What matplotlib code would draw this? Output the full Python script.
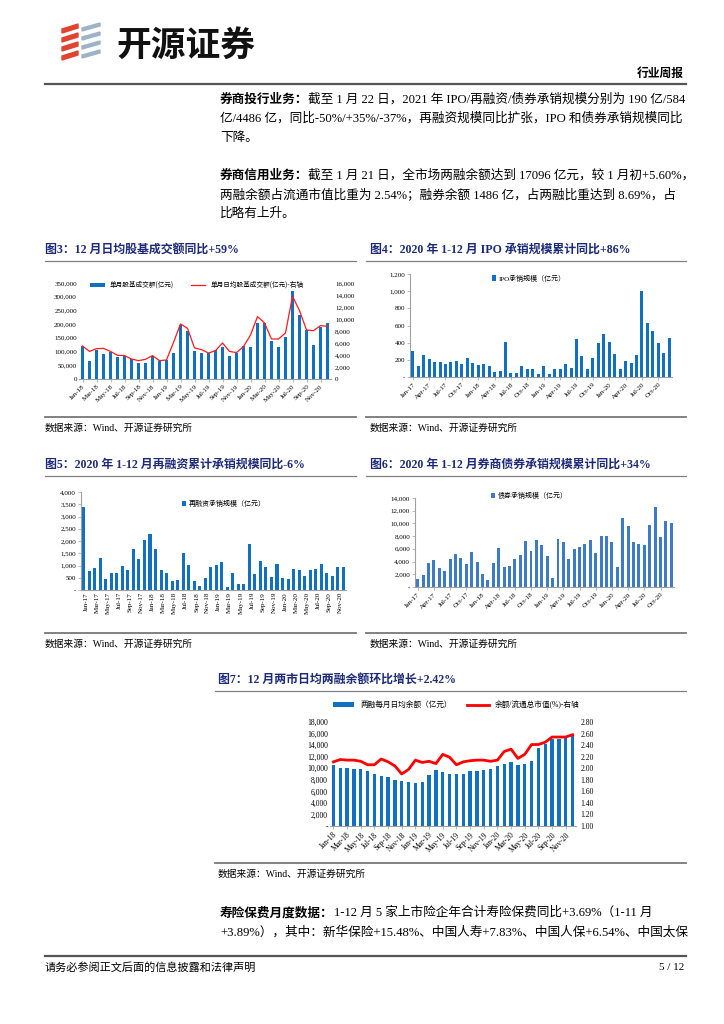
import matplotlib
matplotlib.use("Agg")
import matplotlib.pyplot as plt
import matplotlib.patches as mpatches
from matplotlib.ticker import FuncFormatter
import numpy as np

plt.rcParams['font.family'] = ['Liberation Serif', 'Noto Sans CJK SC', 'DejaVu Sans']

# ================= data =================
mon = ['Jan', 'Feb', 'Mar', 'Apr', 'May', 'Jun', 'Jul', 'Aug', 'Sep', 'Oct', 'Nov', 'Dec']
months_17_20 = [m + '-' + y for y in ('17', '18', '19', '20') for m in mon]
months_18_20 = [m + '-' + y for y in ('18', '19', '20') for m in mon]

# fig3: stock+fund turnover
turnover = [122000, 67000, 107000, 92000, 100000, 79000, 84000, 72000, 57000, 60000, 84000, 64000,
            69000, 94000, 198000, 176000, 103000, 94000, 96000, 104000, 118000, 83000, 94000, 120000,
            118000, 205000, 204000, 140000, 118000, 154000, 322000, 234000, 179000, 125000, 188000, 204000]
turnover_daily = [5500, 4600, 5060, 5100, 4600, 3950, 3900, 3330, 3060, 3280, 3900, 3060,
                  3170, 6100, 9170, 8450, 5170, 4900, 4330, 4720, 6000, 4600, 4400, 5400,
                  7330, 10400, 9340, 6670, 6670, 7670, 13800, 11400, 8170, 8060, 8900, 8780]

# fig4: IPO underwriting
ipo = [300, 130, 257, 207, 172, 172, 150, 172, 188, 157, 218, 161,
       138, 150, 123, 57, 65, 402, 46, 46, 130, 96, 96, 31,
       130, 38, 88, 88, 153, 103, 448, 249, 96, 222, 398, 506,
       410, 272, 96, 184, 161, 253, 1000, 632, 533, 398, 284, 460]

# fig5: refinancing underwriting
refin = [3375, 783, 905, 1323, 432, 675, 675, 1000, 823, 1660, 1269, 2038,
         2284, 1660, 823, 675, 378, 405, 1525, 1026, 378, 175, 486, 945,
         1026, 1148, 108, 675, 256, 230, 1863, 648, 1175, 945, 527, 1067,
         486, 459, 864, 810, 580, 810, 850, 1080, 702, 580, 945, 945]

# fig6: bond underwriting
bond = [1200, 1830, 3710, 4180, 2920, 2450, 4440, 5220, 4600, 3600, 5430, 3970,
        2090, 1100, 3810, 6160, 3180, 3240, 4440, 4960, 7310, 5690, 7410, 6630,
        4850, 1460, 7520, 7150, 4440, 5900, 6260, 6840, 7410, 5320, 8090, 7990,
        7150, 3080, 10860, 9600, 7150, 6840, 6630, 9710, 12530, 7930, 10330, 10020]

# fig7: margin balance
margin = [10520, 10000, 10000, 9890, 9950, 9490, 9030, 8620, 8450, 7940, 7760, 7650,
          7420, 7530, 8800, 9660, 9320, 9030, 9030, 9030, 9490, 9490, 9660, 9950,
          10410, 10700, 11040, 10520, 10700, 11210, 13460, 14260, 15010, 15070, 15240, 15810]
margin_ratio = [2.11, 2.15, 2.14, 2.14, 2.12, 2.06, 2.06, 2.16, 2.11, 2.04, 1.90, 1.98,
                2.14, 2.10, 2.12, 2.08, 2.24, 2.19, 2.06, 2.11, 2.13, 2.14, 2.14, 2.12,
                2.14, 2.29, 2.33, 2.17, 2.24, 2.41, 2.41, 2.45, 2.54, 2.54, 2.54, 2.58]

para1_bold = '券商投行业务：'
para1 = ['截至 1 月 22 日，2021 年 IPO/再融资/债券承销规模分别为 190 亿/584',
         '亿/4486 亿，同比-50%/+35%/-37%，再融资规模同比扩张，IPO 和债券承销规模同比',
         '下降。']
para2_bold = '券商信用业务：'
para2 = ['截至 1 月 21 日，全市场两融余额达到 17096 亿元，较 1 月初+5.60%，',
         '两融余额占流通市值比重为 2.54%；融券余额 1486 亿，占两融比重达到 8.69%，占',
         '比略有上升。']
para3_bold = '寿险保费月度数据：'
para3 = ['1-12 月 5 家上市险企年合计寿险保费同比+3.69%（1-11 月',
         '+3.89%），其中：新华保险+15.48%、中国人寿+7.83%、中国人保+6.54%、中国太保']

W, H = 724, 1024
NAVY = '#1c2a78'
BLUE = '#1170c2'
BLUE6 = '#3d7bc8'
GRID = '#808080'
src_txt = '数据来源：Wind、开源证券研究所'

fig = plt.figure(figsize=(W / 100, H / 100), dpi=100)
renderer = fig.canvas.get_renderer()


def fx(x):
    return x / W


def fy(y):
    return 1 - y / H


def add_ax(l, t, r, b):
    return fig.add_axes([l / W, 1 - b / H, (r - l) / W, (b - t) / H])


def hline(x0, x1, y, lw=1.0, color=GRID):
    fig.add_artist(plt.Line2D([fx(x0), fx(x1)], [fy(y), fy(y)], lw=lw, color=color))


def para(x, y, bold, lines, step=19.5, size=9.1):
    t = fig.text(fx(x), fy(y), bold, fontsize=size, fontweight='bold', va='center',
                 family=['Noto Sans CJK SC'])
    bb = t.get_window_extent(renderer)
    for i, ln in enumerate(lines):
        xx = bb.x1 / W if i == 0 else fx(x)
        fig.text(xx, fy(y + i * step), ln, fontsize=size, va='center')


def thousands(v, pos, zero='-'):
    if v == 0:
        return zero
    return '{:,.0f}'.format(v)


def style_ax(ax, left=True):
    for s in ('top', 'right'):
        ax.spines[s].set_visible(False)
    ax.spines['left'].set_visible(left)
    ax.spines['left'].set_color('#a0a0a0')
    ax.spines['bottom'].set_color('#a0a0a0')
    ax.tick_params(labelsize=5, length=2, width=0.5, color='#a0a0a0', pad=1.5)
    ax.set_facecolor('none')


# ================= header =================
logo = fig.add_axes([fx(58), fy(64), fx(50), 42 / H])
logo.set_xlim(0, 50)
logo.set_ylim(0, 42)
logo.axis('off')
for i, yy in enumerate([4, 13, 22, 31]):
    logo.add_patch(mpatches.Polygon([[4, yy], [20, yy + 5], [20, yy + 9], [4, yy + 4]], color='#e0432f'))
    logo.add_patch(mpatches.Polygon([[24, yy + 2], [42, yy + 7], [42, yy + 10], [24, yy + 5]], color='#9db3c6'))
fig.text(fx(116), fy(45), '开源证券', fontsize=25, fontweight='bold', va='center',
         family=['Noto Sans CJK SC'], color='#111111')
fig.text(fx(684), fy(73), '行业周报', fontsize=8.5, fontweight='bold', ha='right', va='center',
         family=['Noto Sans CJK SC'])
hline(45, 686, 84, lw=1.6, color='#555555')

para(220, 99, para1_bold, para1)
para(220, 175, para2_bold, para2)

# ================= chart titles / frames =================
titles = [(45, 250, '图3：12 月日均股基成交额同比+59%', 45, 356, 417),
          (370, 250, '图4：2020 年 1-12 月 IPO 承销规模累计同比+86%', 366, 686, 417),
          (45, 465, '图5：2020 年 1-12 月再融资累计承销规模同比-6%', 45, 356, 633),
          (370, 465, '图6：2020 年 1-12 月券商债券承销规模累计同比+34%', 366, 686, 633),
          (218, 680, '图7：12 月两市日均两融余额环比增长+2.42%', 215, 686, 863)]
for tx, ty, tt, x0, x1, yb in titles:
    fig.text(fx(tx), fy(ty), tt, fontsize=8.6, fontweight='bold', color=NAVY, va='center')
    hline(x0, x1, ty + 11, lw=0.9)
    hline(x0, x1, yb, lw=1.3, color='#777777')
    fig.text(fx(tx), fy(yb + 11), src_txt, fontsize=7, va='center')

# ================= fig3 =================
ax3 = add_ax(79, 283, 331, 379)
x36 = np.arange(36)
b3 = ax3.bar(x36, turnover, 0.55, color=BLUE, label='单月股基成交额(亿元)')
ax3.set_xlim(-0.5, 35.5)
ax3.set_ylim(0, 350000)
ax3.set_yticks(np.arange(0, 350001, 50000))
ax3.yaxis.set_major_formatter(FuncFormatter(lambda v, p: thousands(v, p, '0')))
ax3.set_xticks(x36[::2])
ax3.set_xticklabels(months_18_20[::2], rotation=45, ha='right', rotation_mode='anchor')
style_ax(ax3, left=False)
ax3.tick_params(axis='y', length=0)
ax3r = ax3.twinx()
l3, = ax3r.plot(x36, turnover_daily, color='#ff1a1a', lw=0.9, label='单月日均股基成交额(亿元)-右轴')
ax3r.set_ylim(0, 16000)
ax3r.set_yticks(np.arange(0, 16001, 2000))
ax3r.yaxis.set_major_formatter(FuncFormatter(lambda v, p: thousands(v, p, '0')))
for s in ('top', 'right', 'left', 'bottom'):
    ax3r.spines[s].set_visible(False)
ax3r.tick_params(labelsize=5, length=0, pad=3)
ax3.legend([b3, l3], [b3.get_label(), l3.get_label()], ncol=2, loc='center left',
           bbox_to_anchor=(fx(84), fy(285)), bbox_transform=fig.transFigure, frameon=False,
           fontsize=4.8, handlelength=2.2, handleheight=0.6, columnspacing=2.5,
           prop={'family': ['Noto Sans CJK SC'], 'size': 4.8})

# ================= fig4 =================
x48 = np.arange(48)
ax4 = add_ax(410, 274, 672, 377)
b4 = ax4.bar(x48, ipo, 0.55, color=BLUE, label='IPO承销规模（亿元）')
ax4.set_xlim(-0.5, 47.5)
ax4.set_ylim(0, 1200)
ax4.set_yticks(np.arange(0, 1201, 200))
ax4.yaxis.set_major_formatter(FuncFormatter(thousands))
ax4.set_xticks(x48[::3])
ax4.set_xticklabels(months_17_20[::3], rotation=45, ha='right', rotation_mode='anchor')
style_ax(ax4)
ax4.legend(loc='center left', bbox_to_anchor=(fx(486), fy(278)), bbox_transform=fig.transFigure,
           frameon=False, handlelength=0.6, handleheight=0.8, handletextpad=0.3,
           prop={'family': ['Liberation Serif', 'Noto Sans CJK SC'], 'size': 5})

# ================= fig5 =================
ax5 = add_ax(81, 492, 346, 590)
b5 = ax5.bar(x48, refin, 0.55, color=BLUE, label='再融资承销规模（亿元）')
ax5.set_xlim(-0.5, 47.5)
ax5.set_ylim(0, 4000)
ax5.set_yticks(np.arange(0, 4001, 500))
ax5.yaxis.set_major_formatter(FuncFormatter(thousands))
ax5.set_xticks(x48[::2])
ax5.set_xticklabels(months_17_20[::2], rotation=90, ha='right', rotation_mode='anchor')
style_ax(ax5)
ax5.tick_params(axis='x', length=0)
ax5.legend(loc='center left', bbox_to_anchor=(fx(176), fy(504)), bbox_transform=fig.transFigure,
           frameon=False, handlelength=0.6, handleheight=0.8, handletextpad=0.3,
           prop={'family': ['Noto Sans CJK SC'], 'size': 5})

# ================= fig6 =================
ax6 = add_ax(415, 498, 674, 587)
b6 = ax6.bar(x48, bond, 0.55, color=BLUE6, label='债券承销规模（亿元）')
ax6.set_xlim(-0.5, 47.5)
ax6.set_ylim(0, 14000)
ax6.set_yticks(np.arange(0, 14001, 2000))
ax6.yaxis.set_major_formatter(FuncFormatter(thousands))
ax6.set_xticks(x48[::3])
ax6.set_xticklabels(months_17_20[::3], rotation=45, ha='right', rotation_mode='anchor')
style_ax(ax6)
ax6.legend(loc='center left', bbox_to_anchor=(fx(485), fy(496)), bbox_transform=fig.transFigure,
           frameon=False, handlelength=0.6, handleheight=0.8, handletextpad=0.3,
           prop={'family': ['Noto Sans CJK SC'], 'size': 5})

# ================= fig7 =================
ax7 = add_ax(330, 722, 576, 826)
b7 = ax7.bar(x36, margin, 0.5, color=BLUE, label='两融每月日均余额（亿元）')
ax7.set_xlim(-0.5, 35.5)
ax7.set_ylim(0, 18000)
ax7.set_yticks(np.arange(0, 18001, 2000))
ax7.yaxis.set_major_formatter(FuncFormatter(thousands))
ax7.set_xticks(x36[::2])
ax7.set_xticklabels(months_18_20[::2], rotation=45, ha='right', rotation_mode='anchor')
style_ax(ax7, left=False)
ax7.tick_params(labelsize=5.5)
ax7.tick_params(axis='y', length=0)
ax7r = ax7.twinx()
l7, = ax7r.plot(x36, margin_ratio, color='#ff0000', lw=2.0, label='余额/流通总市值(%)-右轴')
ax7r.set_ylim(1.0, 2.8)
ax7r.set_yticks(np.arange(1.0, 2.81, 0.2))
ax7r.yaxis.set_major_formatter(FuncFormatter(lambda v, p: '{:.2f}'.format(v)))
for s in ('top', 'right', 'left', 'bottom'):
    ax7r.spines[s].set_visible(False)
ax7r.tick_params(labelsize=5.5, length=0, pad=3)
ax7.legend([b7, l7], [b7.get_label(), l7.get_label()], ncol=2, loc='center left',
           bbox_to_anchor=(fx(326), fy(705)), bbox_transform=fig.transFigure, frameon=False,
           handlelength=2.8, handleheight=0.5, columnspacing=2.0,
           prop={'family': ['Liberation Serif', 'Noto Sans CJK SC'], 'size': 5.5})

# ================= bottom text / footer =================
para(220, 913, para3_bold, para3)
hline(45, 686, 956, lw=1.6, color='#555555')
fig.text(fx(45), fy(967), '请务必参阅正文后面的信息披露和法律声明', fontsize=8, va='center')
fig.text(fx(684), fy(967), '5 / 12', fontsize=8, va='center', ha='right')

plt.savefig('out.png', dpi=100)
